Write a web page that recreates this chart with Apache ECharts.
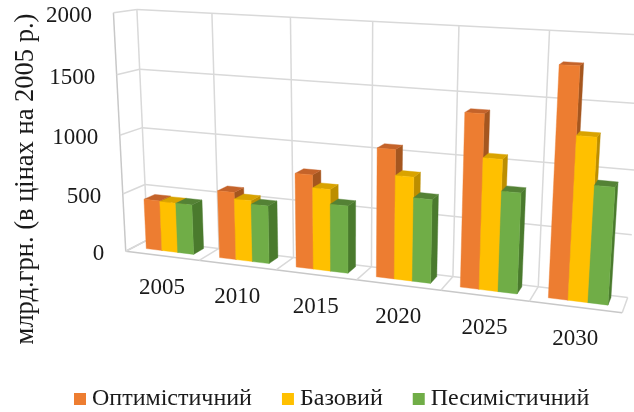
<!DOCTYPE html>
<html><head><meta charset="utf-8">
<style>html,body{margin:0;padding:0;background:#fff}#c{width:634px;height:412px}</style>
<script src="https://cdn.jsdelivr.net/npm/echarts@6/dist/echarts.min.js"></script>
</head><body><div id="c"></div>
<script>
const categories = ['2005','2010','2015','2020','2025','2030'];
const tickValues = [0,500,1000,1500,2000];
const seriesNames = ['Оптимістичний','Базовий','Песимістичний'];
const optimistic = [435,575,785,1050,1380,1780];
const baseline = [430,520,680,845,1045,1270];
const pessimistic = [430,490,560,680,800,910];
const yTitle = 'млрд.грн. (в цінах на 2005 р.)';

const faceColors = [
  {front:'#ED7D31', top:'#C4632A', side:'#A5561F'},
  {front:'#FFC000', top:'#D9A300', side:'#BC8E00'},
  {front:'#70AD47', top:'#548235', side:'#4A7A2D'}
];
const FONT = '"Liberation Serif"';
const GRID = '#D9D9D9';
// Calibration of the perspective box: [U, depth, height] -> screen
const calib = [
  [0,0,0,126,249],[1,0,0,622.7,314],[0,1,0,147,242],[1,1,0,627,296],
  [0,0,1,112.7,14],[0,1,1,138,8],[1,1,1,645,35],[.5,1,1,372,21.7],[.5,1,0,372,267]
];
function solve(A,b){const n=b.length;for(let i=0;i<n;i++){let m=i;for(let r=i+1;r<n;r++)if(Math.abs(A[r][i])>Math.abs(A[m][i]))m=r;
  [A[i],A[m]]=[A[m],A[i]];[b[i],b[m]]=[b[m],b[i]];
  for(let r=i+1;r<n;r++){const f=A[r][i]/A[i][i];for(let c=i;c<n;c++)A[r][c]-=f*A[i][c];b[r]-=f*b[i];}}
  const x=Array(n).fill(0);for(let i=n-1;i>=0;i--){let s=b[i];for(let c=i+1;c<n;c++)s-=A[i][c]*x[c];x[i]=s/A[i][i];}return x;}
const H=(function(){const rows=[],rhs=[];
  calib.forEach(([U,v,w,x,y])=>{rows.push([1,U,v,w,0,0,0,0,-x*U,-x*v,-x*w]);rhs.push(x);rows.push([0,0,0,0,1,U,v,w,-y*U,-y*v,-y*w]);rhs.push(y);});
  const n=11,A=[],b=[];for(let i=0;i<n;i++){A.push([]);let s=0;for(let j=0;j<n;j++){let t=0;rows.forEach(r=>t+=r[i]*r[j]);A[i].push(t);}
    rows.forEach((r,k)=>s+=r[i]*rhs[k]);b.push(s);}
  return solve(A,b);})();
function proj(U,v,w){const d=1+H[8]*U+H[9]*v+H[10]*w;return [(H[0]+H[1]*U+H[2]*v+H[3]*w)/d,(H[4]+H[5]*U+H[6]*v+H[7]*w)/d];}

const barStart=0.175, barW=0.217, depthFront=0.36, depthBack=0.86;
function norm(params,api,cat,val,off){const cs=params.coordSys;const p=api.coord([cat,val]);const band=api.size([1,0])[0];
  return [(p[0]+(off-0.5)*band-cs.x)/cs.width,(cs.y+cs.height-p[1])/cs.height];}
function barRender(si){return function(params,api){
  const cat=api.value(0),val=api.value(1),c=faceColors[si];
  const s=barStart+si*barW;
  const [u0,w]=norm(params,api,cat,val,s);const [u1]=norm(params,api,cat,val,s+barW);
  const poly=(pts,fill)=>({type:'polygon',shape:{points:pts},style:{fill,stroke:fill,lineWidth:.4}});
  const v0=depthFront,v1=depthBack;
  return {type:'group',children:[
    poly([proj(u1,v0,0),proj(u1,v1,0),proj(u1,v1,w),proj(u1,v0,w)],c.side),
    poly([proj(u0,v0,w),proj(u1,v0,w),proj(u1,v1,w),proj(u0,v1,w)],c.top),
    poly([proj(u0,v0,0),proj(u1,v0,0),proj(u1,v0,w),proj(u0,v0,w)],c.front)
  ]};};}
function ln(a,b,col,lw){return {type:'line',shape:{x1:a[0],y1:a[1],x2:b[0],y2:b[1]},style:{stroke:col||GRID,lineWidth:lw||1.5}};}
function txt(x,y,t,align){return {type:'text',style:{x,y,text:t,fill:'#1a1a1a',fontFamily:FONT,fontSize:23,align,verticalAlign:'middle'}};}
function tickRender(params,api){
  const val=api.value(1);const [,w]=norm(params,api,0,val,0);
  const a=proj(0,0,w),b=proj(0,1,w),c=proj(1,1,w);
  const ch=[ln(a,b),ln(b,c)];
  if(val===0){ch[0]=ln(a,b,'#C8C8C8');ch.push(ln(a,proj(1,0,0),'#C8C8C8'));ch.push(ln(proj(1,0,0),c));ch.push(ln(a,proj(0,0,1),'#C8C8C8'));}
  ch.push(txt(a[0]-21.5,a[1]+3,String(val),'right'));
  return {type:'group',children:ch};}
function catRender(params,api){
  const cat=api.value(0),top=tickValues[tickValues.length-1];
  const [u0,wTop]=norm(params,api,cat,top,0);const [uc]=norm(params,api,cat,top,.5);
  const ch=[ln(proj(u0,0,0),proj(u0,1,0)),ln(proj(u0,1,0),proj(u0,1,wTop))];
  const lab=proj(uc,0,0);
  ch.push(txt(lab[0],lab[1]+32,categories[cat],'center'));
  return {type:'group',children:ch};}

const chart=echarts.init(document.getElementById('c'),null,{renderer:'canvas'});
const barData=[optimistic,baseline,pessimistic];
chart.setOption({
  animation:false,backgroundColor:'#fff',
  grid:{left:100,right:30,top:20,bottom:90},
  xAxis:{type:'category',data:categories,show:false},
  yAxis:{type:'value',min:0,max:2000,interval:500,show:false},
  legend:{data:seriesNames,left:74,top:387,itemWidth:12,itemHeight:12,itemGap:30,icon:'rect',padding:0,
    textStyle:{fontFamily:FONT,fontSize:24,color:'#1a1a1a',padding:[0,0,0,1]}},
  graphic:[{type:'text',x:26,y:179,rotation:Math.PI/2,style:{text:yTitle,fontFamily:FONT,fontSize:26.5,fill:'#1a1a1a',align:'center',verticalAlign:'middle'}}],
  series:[
    {type:'custom',name:'frameTicks',clip:false,silent:true,renderItem:tickRender,data:tickValues.map(v=>[0,v]),encode:{x:0,y:1}},
    {type:'custom',name:'frameCats',clip:false,silent:true,renderItem:catRender,data:categories.map((c,i)=>[i,0]),encode:{x:0,y:1}},
    ...seriesNames.map((n,si)=>({type:'custom',name:n,clip:false,renderItem:barRender(si),itemStyle:{color:faceColors[si].front},
      data:barData[si].map((v,i)=>[i,v]),encode:{x:0,y:1}}))
  ]
});
</script></body></html>
